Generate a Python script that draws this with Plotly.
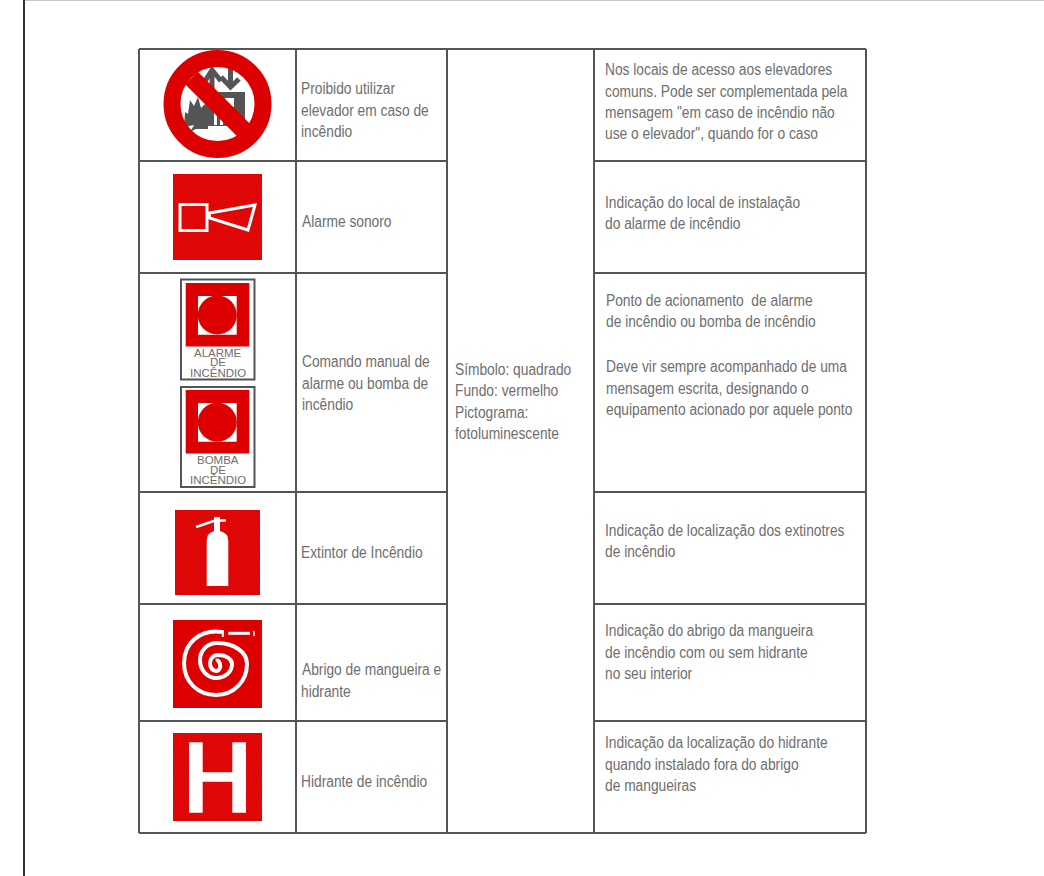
import plotly.graph_objects as go

WIDTH, HEIGHT = 1044, 876
TEXT_GREY = "#6e6e6e"
GRID = "#555555"
RED = "#dd0000"
HATCH = "#e92222"
NARROW_RATIO = 0.86

# table geometry
col_edges = [139, 296, 447, 594, 866]
row_edges = [49, 161, 273, 492, 604, 721, 833]

# text: (x, y, text)
name_lines = [
    (301, 88.5, "Proibido utilizar"), (301, 110.5, "elevador em caso de"), (301, 131.5, "incêndio"),
    (302, 221.5, "Alarme sonoro"),
    (302, 361.5, "Comando manual de"), (302, 383.5, "alarme ou bomba de"), (302, 404.5, "incêndio"),
    (301, 552.5, "Extintor de Incêndio"),
    (302, 669.5, "Abrigo de mangueira e"), (301, 691.5, "hidrante"),
    (301, 781.5, "Hidrante de incêndio"),
]
merged_lines = [
    (455, 369.5, "Símbolo: quadrado"), (455, 390.5, "Fundo: vermelho"),
    (455, 412.5, "Pictograma:"), (455, 433.5, "fotoluminescente"),
]
use_lines = [
    (605, 69.5, "Nos locais de acesso aos elevadores"),
    (605, 91.5, "comuns. Pode ser complementada pela"),
    (605, 112.5, 'mensagem "em caso de incêndio não'),
    (605, 133.5, 'use o elevador", quando for o caso'),
    (605, 202.5, "Indicação do local de instalação"),
    (605, 223.5, "do alarme de incêndio"),
    (606, 300.5, "Ponto de acionamento\u00a0 de alarme"),
    (606, 321.5, "de incêndio ou bomba de incêndio"),
    (606, 366.5, "Deve vir sempre acompanhado de uma"),
    (606, 388.5, "mensagem escrita, designando o"),
    (606, 409.5, "equipamento acionado por aquele ponto"),
    (605, 530.5, "Indicação de localização dos extinotres"),
    (605, 551.5, "de incêndio"),
    (605, 630.5, "Indicação do abrigo da mangueira"),
    (605, 652.5, "de incêndio com ou sem hidrante"),
    (605, 673.5, "no seu interior"),
    (605, 742.5, "Indicação da localização do hidrante"),
    (605, 764.5, "quando instalado fora do abrigo"),
    (605, 785.5, "de mangueiras"),
]
sign_lines = [
    (217.5, 353, "ALARME"), (217.5, 362, "DE"), (217.5, 372.5, "INCÊNDIO"),
    (217.5, 460, "BOMBA"), (217.5, 469.5, "DE"), (217.5, 480, "INCÊNDIO"),
]

# pictogram squares (x0, y0, x1, y1)
alarm_sq = (173, 174, 262, 260)
ext_sq = (175, 510, 260, 595)
hose_sq = (173, 620, 262, 708)
hyd_sq = (173, 733, 262, 821)

shapes = []


def rect(x0, y0, x1, y1, fill=None, line=None, w=0):
    shapes.append(dict(type="rect", x0=x0, y0=y0, x1=x1, y1=y1, fillcolor=fill or "rgba(0,0,0,0)",
                       line=dict(color=line or "rgba(0,0,0,0)", width=w), layer="above"))


def seg(x0, y0, x1, y1, color, w):
    shapes.append(dict(type="line", x0=x0, y0=y0, x1=x1, y1=y1, line=dict(color=color, width=w), layer="above"))


def path(d, fill=None, line=None, w=0):
    shapes.append(dict(type="path", path=d, fillcolor=fill or "rgba(0,0,0,0)",
                       line=dict(color=line or "rgba(0,0,0,0)", width=w), layer="above"))


def poly(pts, closed=True):
    return "M" + " L".join(f"{x},{y}" for x, y in pts) + (" Z" if closed else "")


def hatch(sq, step=3):
    x0, y0, x1, y1 = sq
    w, h = x1 - x0, y1 - y0
    d = []
    off = step
    while off < w + h:
        ax, ay = x0 + max(0, off - h), y0 + min(off, h)
        bx, by = x0 + min(off, w), y0 + max(0, off - w)
        d.append(f"M{ax},{ay} L{bx},{by}")
        off += step
    path(" ".join(d), line=HATCH, w=0.6)


# page frame
seg(24, 0, 24, HEIGHT, "#333333", 2)
seg(25, 0, WIDTH, 0, "#c8c8c8", 2)

# table grid
for x in col_edges:
    seg(x, row_edges[0], x, row_edges[-1], GRID, 2)
for i, y in enumerate(row_edges):
    if i in (0, len(row_edges) - 1):
        seg(col_edges[0], y, col_edges[-1], y, GRID, 2)
    else:
        seg(col_edges[0], y, col_edges[2], y, GRID, 2)
        seg(col_edges[3], y, col_edges[4], y, GRID, 2)

# --- no elevator sign
ICON = "#555555"
path(poly([(208, 92), (245, 92), (245, 126), (208, 126)]), fill=ICON)
rect(225, 98, 234, 107, fill="#ffffff")
rect(214, 113, 217, 125, fill="#ffffff")
rect(220, 113, 223, 125, fill="#ffffff")
path(poly([(184, 127), (185, 112), (188, 114), (190, 100), (194, 106), (198, 97), (201, 108), (205, 104),
           (208, 106), (208, 129), (196, 129), (190, 132), (194, 125)]), fill=ICON)
path(poly([(204.5, 82), (212, 70), (221, 81)], closed=False), line=ICON, w=5)
seg(212, 70, 212, 93, ICON, 5)
path(poly([(221, 77), (230.5, 87), (239, 79)], closed=False), line=ICON, w=5)
seg(230.5, 66, 230.5, 87, ICON, 5)
shapes.append(dict(type="circle", x0=172, y0=58.5, x1=263, y1=149.5, fillcolor="rgba(0,0,0,0)",
                   line=dict(color=RED, width=17), layer="above"))
seg(191.5, 78, 244, 130.5, RED, 18)

# --- sound alarm
rect(*alarm_sq, fill=RED)
hatch(alarm_sq)
rect(180, 204.5, 207, 230.5, line="#ffffff", w=3)
path(poly([(209.5, 213), (255, 205), (248, 230), (209.5, 218)]), line="#ffffff", w=3)

# --- manual call points
for fy, ry, wy, cy in [(279.5, 283, 296, 315), (387, 390, 403, 422.3)]:
    rect(181, fy, 254.5, fy + 100, fill="#ffffff", line=GRID, w=2)
    rect(185.7, ry, 249.3, ry + 63.5, fill=RED)
    rect(198, wy, 236.7, wy + 38.7, fill="#ffffff")
    shapes.append(dict(type="circle", x0=197.8, y0=cy - 19.5, x1=236.8, y1=cy + 19.5, fillcolor=RED,
                       line=dict(width=0), layer="above"))

# --- extinguisher
rect(*ext_sq, fill=RED)
hatch(ext_sq)
path("M206.7,586 L206.7,541 Q206.7,533 214,531 L214,524 L220,524 L220,531 Q228.3,533 228.3,541 L228.3,586 Z",
     fill="#ffffff")
path(poly([(196, 527), (215, 520.5), (226, 520.5)], closed=False), line="#ffffff", w=2.5)
rect(214, 517, 220, 526, fill="#ffffff")

# --- hose reel
rect(*hose_sq, fill=RED)
path("M222,632 C200,629 184,643 184,663 C184,682 198,695 216,695 C234,695 247,681 247,664 "
     "C247,652 234,643 217,643 C207,643 200,651 200,660 C200,671 208,678 216,678 C225,678 232,672 232,664 "
     "C232,659 226,655 218,655 C213,655 210,659 210,663 C210,668 213,671 216,671 C219,671 221,668 220,664 "
     "C219,661 218,660 216,661", line="#ffffff", w=4)
seg(222.8, 630, 222.8, 637, "#ffffff", 2)
seg(228.3, 633.3, 250, 633.3, "#ffffff", 3)
seg(254, 631, 254, 636, "#ffffff", 1.5)

# --- hydrant
rect(*hyd_sq, fill=RED)
hatch(hyd_sq)
path(poly([(189, 742.3), (202.7, 742.3), (202.7, 772.3), (232.3, 772.3), (232.3, 742.3), (246, 742.3),
           (246, 812.7), (232.3, 812.7), (232.3, 781.7), (202.7, 781.7), (202.7, 812.7), (189, 812.7)]),
     fill="#ffffff")

annotations = []
for x, y, t in name_lines + merged_lines + use_lines:
    annotations.append(dict(x=x, y=y, text=t, showarrow=False, xanchor="left", yanchor="middle",
                            xref="x", yref="y", borderpad=0, borderwidth=0,
                            font=dict(family="Liberation Sans", size=16, color=TEXT_GREY)))
for x, y, t in sign_lines:
    annotations.append(dict(x=x, y=y, text=t, showarrow=False, xanchor="center", yanchor="middle",
                            xref="x", yref="y", borderpad=0, borderwidth=0,
                            font=dict(family="Liberation Sans", size=11.5, color=TEXT_GREY)))

fig = go.Figure()
fig.update_layout(
    width=WIDTH, height=HEIGHT, margin=dict(l=0, r=0, t=0, b=0),
    paper_bgcolor="#ffffff", plot_bgcolor="#ffffff", showlegend=False,
    xaxis=dict(range=[0, WIDTH], visible=False, fixedrange=True),
    yaxis=dict(range=[HEIGHT, 0], visible=False, fixedrange=True),
    shapes=shapes, annotations=annotations,
)
# Only the Liberation Sans (no narrow cut installed) body text is condensed, keeping its left edge.
narrow_js = """
document.body.style.margin='0';
document.querySelectorAll('.annotation-text').forEach(function(el){
  if (parseFloat(el.style.fontSize) < 14) return;
  var b0 = el.getBBox(), L = el.getComputedTextLength();
  el.setAttribute('lengthAdjust','spacingAndGlyphs');
  el.setAttribute('textLength', L * %s);
  var b1 = el.getBBox();
  el.setAttribute('x', parseFloat(el.getAttribute('x')) - (b1.x - b0.x));
});
""" % NARROW_RATIO
fig.write_html("out.html", config=dict(displayModeBar=False), post_script=narrow_js)
